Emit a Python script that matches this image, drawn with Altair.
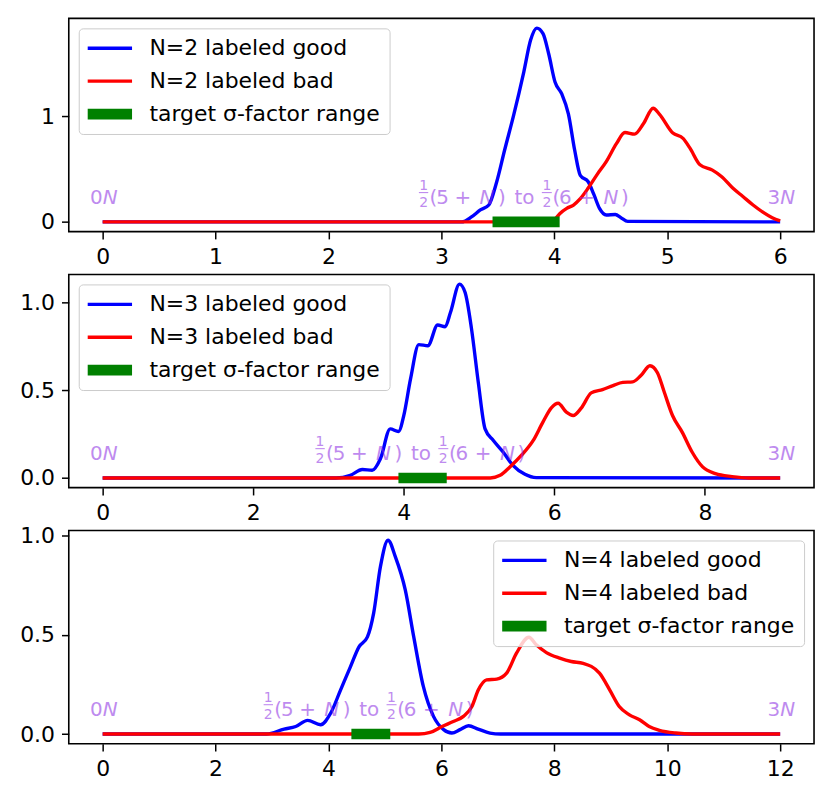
import altair as alt
import pandas as pd

FONT = "DejaVu Sans"
PURPLE = "#8a2be2"

# ---------------- data ----------------
N_values = [2, 3, 4]
series_colors = ["#0000ff", "#ff0000", "#008000"]
target_label = "target σ-factor range"

# N = 2
good_x_2 = [0, 3.18, 3.27, 3.345, 3.42, 3.49, 3.56, 3.64, 3.73, 3.79, 3.845, 3.90, 3.95,
            4.007, 4.066, 4.125, 4.18, 4.23, 4.30, 4.35, 4.40, 4.46, 4.54, 4.59, 4.65, 6.0]
good_y_2 = [0, 0, 0.05, 0.113, 0.16, 0.38, 0.68, 1.01, 1.42, 1.72, 1.833, 1.78, 1.59,
            1.32, 1.21, 1.02, 0.68, 0.44, 0.38, 0.26, 0.128, 0.066, 0.07, 0.04, 0.005, 0]
bad_x_2 = [0, 3.95, 4.0, 4.05, 4.11, 4.17, 4.23, 4.30, 4.38, 4.46, 4.55, 4.625, 4.71, 4.79,
           4.875, 4.93, 5.05, 5.14, 5.20, 5.29, 5.40, 5.48, 5.58, 5.67, 5.76, 5.85, 5.93, 6.0]
bad_y_2 = [0, 0, 0.02, 0.08, 0.128, 0.16, 0.22, 0.32, 0.45, 0.57, 0.74, 0.845, 0.83, 0.93,
           1.075, 1.02, 0.84, 0.79, 0.70, 0.54, 0.49, 0.43, 0.32, 0.24, 0.16, 0.09, 0.04, 0.01]

# N = 3
good_x_3 = [0, 3.1, 3.29, 3.45, 3.58, 3.69, 3.82, 3.93, 4.0, 4.09, 4.20, 4.32, 4.45, 4.55,
            4.62, 4.74, 4.815, 4.90, 4.99, 5.08, 5.19, 5.32, 5.45, 5.61, 5.76, 9.0]
good_y_3 = [0, 0, 0.015, 0.048, 0.044, 0.11, 0.28, 0.265, 0.356, 0.565, 0.76, 0.754, 0.872, 0.862,
            0.943, 1.105, 1.057, 0.85, 0.545, 0.28, 0.214, 0.148, 0.072, 0.021, 0.002, 0]
bad_x_3 = [0, 5.15, 5.28, 5.41, 5.565, 5.72, 5.85, 5.96, 6.05, 6.16, 6.25, 6.36, 6.49, 6.64,
           6.78, 6.91, 7.04, 7.15, 7.27, 7.37, 7.46, 7.57, 7.70, 7.83, 7.97, 8.14, 8.36, 8.58, 9.0]
bad_y_3 = [0, 0, 0.015, 0.063, 0.13, 0.214, 0.32, 0.40, 0.426, 0.375, 0.356, 0.40, 0.485, 0.504,
           0.527, 0.545, 0.548, 0.584, 0.64, 0.60, 0.49, 0.356, 0.26, 0.148, 0.063, 0.025, 0.008, 0.0, 0]

# N = 4
good_x_4 = [0, 2.9, 3.215, 3.42, 3.63, 3.86, 4.04, 4.215, 4.39, 4.54, 4.69, 4.80, 4.92, 5.055,
            5.185, 5.36, 5.51, 5.68, 5.86, 6.04, 6.185, 6.33, 6.48, 6.65, 6.86, 7.05, 12]
good_y_4 = [0, 0, 0.025, 0.038, 0.069, 0.047, 0.106, 0.223, 0.34, 0.44, 0.49, 0.61, 0.845, 0.978,
            0.894, 0.727, 0.49, 0.24, 0.089, 0.022, 0.005, 0.022, 0.042, 0.025, 0.005, 0, 0]
bad_x_4 = [0, 5.6, 5.80, 6.01, 6.21, 6.39, 6.54, 6.655, 6.80, 6.98, 7.155, 7.33, 7.55, 7.68,
           7.86, 8.095, 8.30, 8.51, 8.80, 8.98, 9.15, 9.33, 9.51, 9.68, 9.86, 10.15, 10.45, 12]
bad_y_4 = [0, 0, 0.008, 0.038, 0.063, 0.089, 0.139, 0.223, 0.273, 0.277, 0.307, 0.408, 0.488, 0.45,
           0.411, 0.383, 0.366, 0.357, 0.307, 0.223, 0.139, 0.097, 0.072, 0.038, 0.019, 0.005, 0, 0]

x_ticks = {2: [0, 1, 2, 3, 4, 5, 6], 3: [0, 2, 4, 6, 8], 4: [0, 2, 4, 6, 8, 10, 12]}
y_ticks = {2: [0, 1], 3: [0, 0.5, 1.0], 4: [0, 0.5, 1.0]}
y_formats = {2: "d", 3: ".1f", 4: ".1f"}
legend_orients = {2: "top-left", 3: "top-left", 4: "top-right"}

curves = {
    2: (good_x_2, good_y_2, bad_x_2, bad_y_2),
    3: (good_x_3, good_y_3, bad_x_3, bad_y_3),
    4: (good_x_4, good_y_4, bad_x_4, bad_y_4),
}

# pieces of the mathtext "1/2(5 + N) to 1/2(6 + N)" : (text, dx, dy, size, italic, align)
MAIN = 20
SMALL = 14
mid_pieces = [
    ("1", -102.9, -13.3, SMALL, False, "center"),
    ("2", -102.9, 3.6, SMALL, False, "center"),
    ("(", -93.1, 0, MAIN, False, "center"),
    ("5", -83.9, 0, MAIN, False, "center"),
    ("+", -63.4, 0, MAIN, False, "center"),
    ("N", -39.2, 0, MAIN, True, "center"),
    (")", -24.2, 0, MAIN, False, "center"),
    ("to", -1.7, 0, MAIN, False, "center"),
    ("1", 20.8, -13.3, SMALL, False, "center"),
    ("2", 20.8, 3.6, SMALL, False, "center"),
    ("(", 30.3, 0, MAIN, False, "center"),
    ("6", 39.4, 0, MAIN, False, "center"),
    ("+", 60.8, 0, MAIN, False, "center"),
    ("N", 85.1, 0, MAIN, True, "center"),
    (")", 99.1, 0, MAIN, False, "center"),
]
frac_bars = [(-107.6, -98.2), (15.8, 25.8)]
start_pieces = [("0", 0, 0, MAIN, False, "right"), ("N", 0, 0, MAIN, True, "left")]
end_pieces = [("3", 0, 0, MAIN, False, "right"), ("N", 0, 0, MAIN, True, "left")]


def text_layer(df, xenc, yenc, txt, dx, dy, size, italic, align):
    kw = dict(text=txt, dx=dx, dy=dy + 1, fontSize=size, font=FONT, color=PURPLE,
              opacity=0.55, align=align, baseline="alphabetic")
    if italic:
        kw["fontStyle"] = "italic"
    return alt.Chart(df).mark_text(**kw).encode(x=xenc, y=yenc)


def panel(N):
    gx, gy, bx, by = curves[N]
    good_lbl = f"N={N} labeled good"
    bad_lbl = f"N={N} labeled bad"
    dom = [good_lbl, bad_lbl, target_label]
    M = max(gy + by)
    xmax = 3 * N
    xs = alt.Scale(domain=[-0.05 * xmax, 1.05 * xmax], nice=False, zero=False)
    ys = alt.Scale(domain=[-0.05 * M, 1.05 * M], nice=False, zero=False)
    xenc = alt.X("x:Q", scale=xs, axis=alt.Axis(values=x_ticks[N], format="d", title=None))
    yenc = alt.Y("y:Q", scale=ys, axis=alt.Axis(values=y_ticks[N], format=y_formats[N], title=None))

    legend = alt.Legend(
        title=None, orient=legend_orients[N], offset=10, symbolType="stroke",
        symbolSize=2209, symbolStrokeWidth=3, symbolOffset=-8, clipHeight=22, rowPadding=11,
        labelFontSize=22, labelFont=FONT, labelColor="black", labelOffset=12,
        labelLimit=500, padding=9, strokeColor="#cccccc",
        fillColor="rgba(255,255,255,0.8)", cornerRadius=4,
    )
    color = alt.Color("series:N", scale=alt.Scale(domain=dom, range=series_colors), legend=legend)
    sw = alt.StrokeWidth("series:N", scale=alt.Scale(type="ordinal", domain=dom, range=[3.4, 3.4, 10.7]),
                         legend=legend)

    good_df = pd.DataFrame({"x": gx, "y": gy, "series": good_lbl})
    bad_df = pd.DataFrame({"x": bx, "y": by, "series": bad_lbl})
    tgt_df = pd.DataFrame({"x": [(5 + N) / 2], "x2": [(6 + N) / 2], "y": [0.0], "series": [target_label]})

    good_line = alt.Chart(good_df).mark_line(interpolate="monotone").encode(
        x=xenc, y=yenc, color=color, strokeWidth=sw)
    bad_line = alt.Chart(bad_df).mark_line(interpolate="monotone").encode(
        x=xenc, y=yenc, color=color, strokeWidth=sw)
    bar = alt.Chart(tgt_df).mark_rule(strokeCap="square").encode(
        x=xenc, x2="x2:Q", y=yenc, color=color, strokeWidth=sw)

    ya = 0.1 * M
    left_df = pd.DataFrame({"x": [0.0], "y": [ya]})
    right_df = pd.DataFrame({"x": [float(xmax)], "y": [ya]})
    mid_df = pd.DataFrame({"x": [(5 + N) / 2 + 0.25], "y": [ya]})

    layers = [good_line, bad_line, bar]
    for p in start_pieces:
        layers.append(text_layer(left_df, xenc, yenc, *p))
    for p in end_pieces:
        layers.append(text_layer(right_df, xenc, yenc, *p))
    for p in mid_pieces:
        layers.append(text_layer(mid_df, xenc, yenc, *p))
    for (o1, o2) in frac_bars:
        layers.append(
            alt.Chart(mid_df).mark_rule(color=PURPLE, opacity=0.55, strokeWidth=1.1,
                                        xOffset=o1, x2Offset=o2, yOffset=-10, y2Offset=-10)
            .encode(x=xenc, x2="x:Q", y=yenc, y2="y:Q")
        )
    return alt.layer(*layers).properties(width=748, height=214)


chart = alt.vconcat(*[panel(N) for N in N_values], spacing=43, bounds="flush").resolve_scale(
    x="independent", y="independent", color="independent", strokeWidth="independent"
).resolve_legend(color="independent", strokeWidth="independent").properties(
    padding={"left": 10, "top": 8, "right": 8, "bottom": 5}
).configure_view(
    stroke="black", strokeWidth=1.6
).configure_axis(
    domain=False, grid=False, ticks=True, tickColor="black", tickSize=7.3, tickWidth=1.5,
    labelFont=FONT, labelFontSize=22, labelColor="black", labelFlush=False, labelOverlap=False
).configure_axisX(labelPadding=8).configure_axisY(labelPadding=7)

chart.save("out.html", embed_options={"renderer": "svg", "actions": False})
